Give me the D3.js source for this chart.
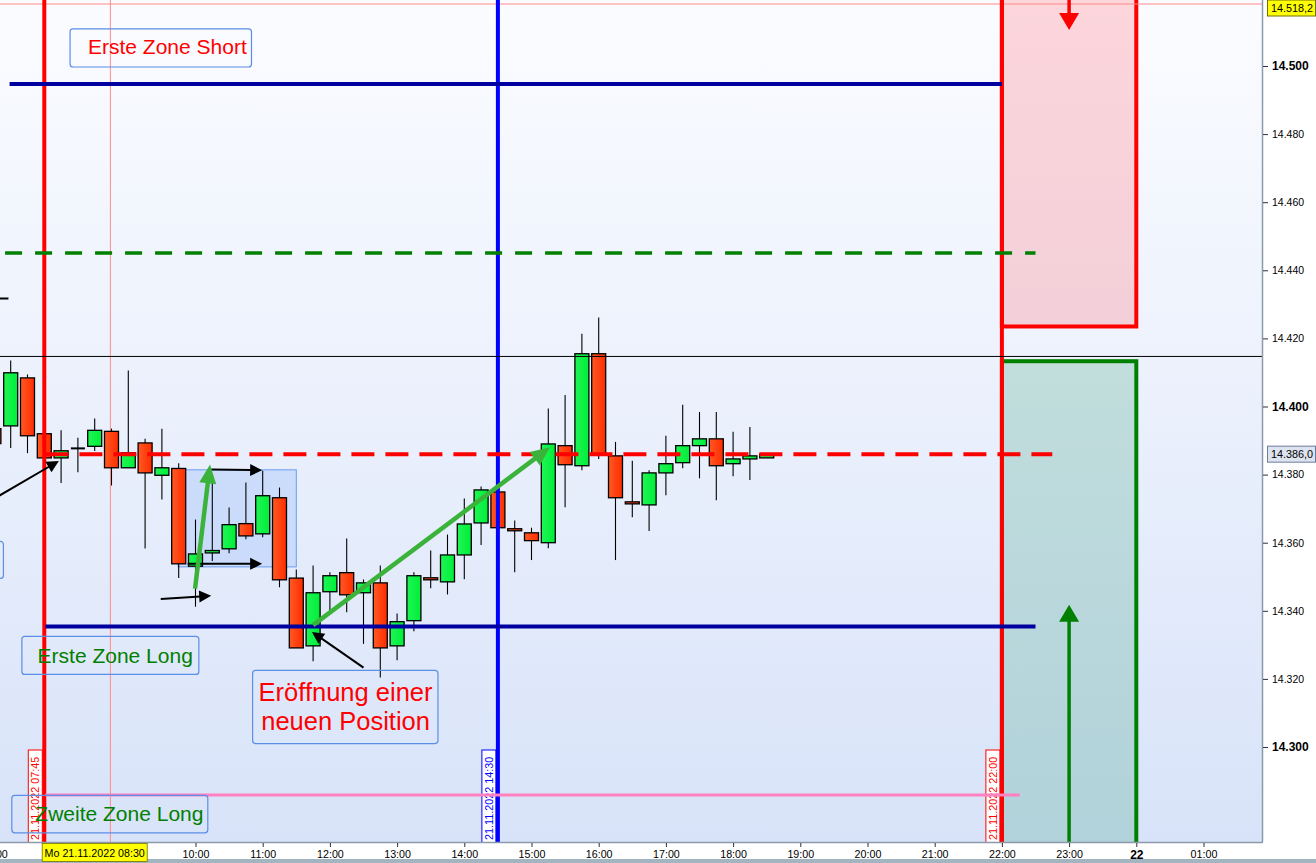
<!DOCTYPE html>
<html><head><meta charset="utf-8">
<script src="https://cdn.jsdelivr.net/npm/d3@7"></script>
<style>
html,body{margin:0;padding:0;background:#fff;overflow:hidden}
svg{display:block;font-family:Arial,"Liberation Sans",sans-serif}
</style></head><body>
<svg id="c" width="1316" height="863"></svg>
<script>
// ---------------- DATA ----------------
const DAY = "2022-11-21", NEXT = "2022-11-22";
const xDomain = ["07:05:27", "+01:52:14"];
const yDomain = [14272.1, 14519.38];

const candleTimes = ["07:00","07:15","07:30","07:45","08:00","08:15","08:30","08:45","09:00","09:15","09:30","09:45",
  "10:00","10:15","10:30","10:45","11:00","11:15","11:30","11:45","12:00","12:15","12:30","12:45",
  "13:00","13:15","13:30","13:45","14:00","14:15","14:30","14:45","15:00","15:15","15:30","15:45",
  "16:00","16:15","16:30","16:45","17:00","17:15","17:30","17:45","18:00","18:15","18:30"];
const opens = [14393.5,14394.3,14408.4,14392.0,14384.9,14387.7,14388.3,14392.7,14382.0,14389.3,14379.8,14381.8,
  14353.1,14357.0,14358.2,14365.6,14362.6,14373.2,14349.6,14329.7,14345.6,14351.2,14345.3,14348.2,
  14329.7,14337.1,14349.7,14348.5,14356.4,14365.8,14374.9,14364.1,14362.9,14360.0,14388.5,14382.6,
  14415.5,14385.5,14372.0,14371.1,14380.5,14383.5,14388.5,14390.5,14383.2,14384.6,14384.9];
const highs = [14394.0,14413.5,14409.4,14392.1,14393.0,14390.8,14396.5,14393.5,14410.6,14390.5,14393.5,14383.3,
  14366.8,14378.0,14370.3,14377.7,14381.1,14376.2,14352.1,14353.3,14351.3,14361.2,14349.2,14353.3,
  14339.2,14351.3,14357.7,14362.4,14373.0,14376.5,14376.2,14366.5,14364.4,14399.4,14403.4,14421.4,
  14426.1,14389.6,14384.1,14381.3,14391.4,14400.5,14398.4,14398.4,14392.6,14394.0,14386.0];
const lows = [14389.0,14387.8,14386.3,14384.7,14377.5,14380.7,14386.9,14376.8,14382.0,14358.3,14372.7,14349.6,
  14341.2,14354.6,14356.9,14361.0,14361.6,14346.9,14329.1,14325.2,14339.5,14339.6,14330.3,14320.4,
  14325.5,14334.0,14346.6,14344.8,14349.3,14359.3,14364.4,14351.3,14354.9,14358.4,14370.4,14381.3,
  14384.6,14354.9,14367.5,14363.4,14373.9,14381.9,14378.9,14372.5,14379.5,14378.4,14384.9];
const closes = [14389.1,14409.9,14391.4,14384.9,14387.0,14387.7,14393.0,14382.0,14386.4,14380.5,14382.0,14353.8,
  14356.7,14357.7,14365.3,14362.0,14373.8,14349.1,14329.1,14345.3,14350.3,14344.7,14348.2,14329.1,
  14336.8,14350.3,14349.1,14356.4,14365.5,14375.5,14364.4,14363.5,14360.6,14389.0,14382.9,14415.5,
  14385.9,14373.2,14371.4,14380.5,14383.2,14388.5,14390.5,14382.6,14384.6,14385.5,14386.0];

const priceTicks = [14300,14320,14340,14360,14380,14400,14420,14440,14460,14480,14500];
const timeTicks = ["07:00","08:00","09:00","10:00","11:00","12:00","13:00","14:00","15:00","16:00","17:00",
  "18:00","19:00","20:00","21:00","22:00","23:00","+00:00","+01:00"];
const hiddenTimeLabels = ["08:00","09:00"];   // covered by the crosshair time label

// horizontal level lines
const levelPrices = [14494.7, 14445.1, 14414.7, 14386.0, 14335.4, 14285.9, 14431.7];
const levelFrom   = ["07:14", "07:10", "06:30", "07:46", "07:46", "07:46", "06:30"];
const levelTo     = ["22:00", "22:30", "+02:00", "22:45", "22:30", "22:16", "07:13"];

// vertical markers
const markerTimes  = ["07:45", "14:30", "22:00"];
const markerLabels = ["21.11.2022 07:45", "21.11.2022 14:30", "21.11.2022 22:00"];

// zones
const zoneFrom = ["22:00", "22:00"], zoneTo = ["+00:00", "+00:00"];
const zoneTop = [14540, 14413.3], zoneBottom = [14423.5, 14250];
const zoneArrowAt = ["23:00", "23:00"], zoneArrowFrom = [14530, 14260], zoneArrowTo = [14510.6, 14341.8];

// text notes
const noteLines = [["Erste Zone Short"], ["Erste Zone Long"], ["Zweite Zone Long"], ["Eröffnung einer", "neuen Position"], [""]];
const noteBoxFrom = ["08:08", "07:25", "07:16", "10:51", "06:00"];
const noteBoxTo   = ["10:50", "10:03", "10:11", "13:36:30", "07:08:30"];
const noteBoxTop  = [14510.9, 14332.5, 14285.8, 14322.5, 14360.4];
const noteBoxBottom = [14499.7, 14321.3, 14274.8, 14301.0, 14349.5];
const noteTextAt  = ["08:24", "07:39", "07:37", "12:14", "06:00"];
const noteTextPrice = [14503.5, 14324.8, 14278.4, 14313.6, 14350];

// selection rectangle
const selFrom = "09:44:30", selTo = "11:30", selTop = 14381.4, selBottom = 14352.9;

// black pointer arrows
const pointerFromT = ["07:00", "10:14", "09:53", "09:29", "12:30"];
const pointerFromP = [14372.9, 14381.5, 14353.8, 14343.5, 14323.3];
const pointerToT   = ["07:58", "10:59:30", "10:59:30", "10:14", "11:44"];
const pointerToP   = [14384.0, 14381.3, 14353.8, 14344.4, 14333.8];

// green trend arrows
const trendFromT = ["09:59:36", "11:45"];
const trendFromP = [14346.5, 14335.8];
const trendToT   = ["10:13", "15:16:30"];
const trendToP   = [14383.0, 14388.0];

// crosshair / price labels
const crossTime = "08:44", crossPrice = 14518.2, crossLabelTime = "08:30";
const lastPrice = 14386.0;

// ---------------- HELPERS ----------------
const pFull = d3.timeParse("%Y-%m-%d %H:%M:%S");
function T(s){
  let d = DAY;
  if (s.startsWith("+")) { d = NEXT; s = s.slice(1); }
  if (s.length === 5) s += ":00";
  return pFull(d + " " + s);
}
const de = d3.formatLocale({decimal: ",", thousands: ".", grouping: [3], currency: ["", "€"]});
const fmt0 = de.format(",.0f"), fmt1 = de.format(",.1f");

const W = 1262, H = 842, SW = 1316, SH = 863;
const x = d3.scaleTime().domain(xDomain.map(T)).range([0, W]);
const y = d3.scaleLinear().domain(yDomain).range([H, 0]);

const svg = d3.select("#c");
const defs = svg.append("defs");
function vgrad(id, stops, horiz){
  const g = defs.append("linearGradient").attr("id", id).attr("x1",0).attr("y1",0)
    .attr("x2", horiz?1:0).attr("y2", horiz?0:1);
  stops.forEach(([o,c]) => g.append("stop").attr("offset", o).attr("stop-color", c));
}
vgrad("bg", [["0%","#fbfcff"],["50%","#eaf0fc"],["100%","#d8e3f9"]]);
vgrad("up", [["0%","#1ff556"],["100%","#00ee38"]], true);
vgrad("dn", [["0%","#ff5a24"],["100%","#ff2c00"]], true);
defs.append("clipPath").attr("id","clip").append("rect").attr("x",0).attr("y",0).attr("width",W).attr("height",H);

// panels
svg.append("rect").attr("width",SW).attr("height",SH).attr("fill","#ffffff");
svg.append("rect").attr("x",0).attr("y",859).attr("width",SW).attr("height",4).attr("fill","#a2b5c1");

const plot = svg.append("g").attr("clip-path","url(#clip)");
plot.append("rect").attr("width",W).attr("height",H).attr("fill","url(#bg)");

// selection rectangle
plot.append("rect")
  .attr("x", x(T(selFrom))).attr("y", y(selTop))
  .attr("width", x(T(selTo)) - x(T(selFrom))).attr("height", y(selBottom) - y(selTop))
  .attr("fill", "rgba(180,205,252,0.55)").attr("stroke", "#6b9df0").attr("stroke-width", 1);

// zones
const zoneFill = ["rgba(255,120,130,0.29)", "rgba(40,150,110,0.22)"];
const zoneStroke = ["#ff0000", "#008000"];
zoneFrom.forEach((f,i) => {
  plot.append("rect")
    .attr("x", x(T(f))).attr("y", y(zoneTop[i]))
    .attr("width", x(T(zoneTo[i])) - x(T(f))).attr("height", y(zoneBottom[i]) - y(zoneTop[i]))
    .attr("fill", zoneFill[i]).attr("stroke", zoneStroke[i]).attr("stroke-width", 4);
});

// crosshair
plot.append("line").attr("x1", x(T(crossTime))).attr("x2", x(T(crossTime))).attr("y1",0).attr("y2",H)
  .attr("stroke","#ff8a8a").attr("stroke-width",1);
plot.append("line").attr("x1",0).attr("x2",W).attr("y1",y(crossPrice)).attr("y2",y(crossPrice))
  .attr("stroke","#ff8a8a").attr("stroke-width",1);

// candles
const step = x(T("07:15")) - x(T("07:00"));
const bodyW = Math.round(step * 0.85);
const cg = plot.append("g");
candleTimes.forEach((t,i) => {
  const cx = x(T(t)), o = opens[i], c = closes[i];
  cg.append("line").attr("x1",cx).attr("x2",cx).attr("y1",y(highs[i])).attr("y2",y(lows[i]))
    .attr("stroke","#000").attr("stroke-width",1.1);
  if (o === c) {
    cg.append("line").attr("x1",cx-bodyW/2).attr("x2",cx+bodyW/2).attr("y1",y(o)).attr("y2",y(o))
      .attr("stroke","#000").attr("stroke-width",2);
  } else {
    const top = y(Math.max(o,c)), bot = y(Math.min(o,c));
    cg.append("rect").attr("x",cx-bodyW/2).attr("y",top).attr("width",bodyW).attr("height",Math.max(bot-top,2))
      .attr("fill", c > o ? "url(#up)" : "url(#dn)").attr("stroke","#000").attr("stroke-width",1.3);
  }
});

// vertical date labels
const markerColor = ["#ff0000", "#0000ff", "#ff0000"];
markerTimes.forEach((t,i) => {
  const xl = x(T(t));
  plot.append("rect").attr("x", xl-16).attr("y", 750).attr("width", 14).attr("height", H-750+2)
    .attr("fill","#ffffff").attr("stroke", markerColor[i]).attr("stroke-width",1);
  plot.append("text").attr("transform", `translate(${xl-5},${H-2}) rotate(-90)`)
    .attr("font-size", 10.8).attr("fill", markerColor[i]).text(markerLabels[i]);
});

// vertical lines
markerTimes.forEach((t,i) => {
  plot.append("line").attr("x1",x(T(t))).attr("x2",x(T(t))).attr("y1",0).attr("y2",H)
    .attr("stroke", markerColor[i]).attr("stroke-width",4);
});

// horizontal levels
const levelStyle = [
  {c:"#0000a0", w:4, d:null},
  {c:"#008000", w:3.5, d:"17,13"},
  {c:"#000000", w:1, d:null},
  {c:"#ff0000", w:4, d:"23,11"},
  {c:"#0000a0", w:4, d:null},
  {c:"#ff80c0", w:3, d:null},
  {c:"#000000", w:2, d:null}
];
levelPrices.forEach((p,i) => {
  const s = levelStyle[i];
  const l = plot.append("line").attr("x1", x(T(levelFrom[i]))).attr("x2", x(T(levelTo[i])))
    .attr("y1", y(p)).attr("y2", y(p)).attr("stroke", s.c).attr("stroke-width", s.w);
  if (s.d) l.attr("stroke-dasharray", s.d);
});

// arrows
function arrow(g, x1,y1,x2,y2, color, lw, hl, hw){
  const dx=x2-x1, dy=y2-y1, len=Math.hypot(dx,dy), ux=dx/len, uy=dy/len;
  const bx=x2-ux*hl, by=y2-uy*hl;
  g.append("line").attr("x1",x1).attr("y1",y1).attr("x2",bx+ux).attr("y2",by+uy)
    .attr("stroke",color).attr("stroke-width",lw);
  g.append("path").attr("d", `M${x2},${y2}L${bx-uy*hw/2},${by+ux*hw/2}L${bx+uy*hw/2},${by-ux*hw/2}Z`)
    .attr("fill",color);
}
const zArrColor = ["#ff0000", "#008000"];
zoneArrowAt.forEach((t,i) => {
  arrow(plot, x(T(t)), y(zoneArrowFrom[i]), x(T(t)), y(zoneArrowTo[i]), zArrColor[i], 3.5, 17, 20);
});

// notes
const noteColor = ["#ff0000", "#008000", "#008000", "#ff0000", "#000"];
const noteSize = [21, 21, 21, 25.5, 12];
const noteAnchor = ["start", "start", "start", "middle", "start"];
noteLines.forEach((lines,i) => {
  plot.append("rect").attr("x", x(T(noteBoxFrom[i]))).attr("y", y(noteBoxTop[i]))
    .attr("width", x(T(noteBoxTo[i])) - x(T(noteBoxFrom[i])))
    .attr("height", y(noteBoxBottom[i]) - y(noteBoxTop[i]))
    .attr("rx", 3).attr("fill","none").attr("stroke","#5b8ee6").attr("stroke-width",1.2);
  lines.forEach((ln,j) => {
    if (!ln) return;
    plot.append("text").attr("x", x(T(noteTextAt[i]))).attr("y", y(noteTextPrice[i]) + j*29)
      .attr("text-anchor", noteAnchor[i]).attr("font-size", noteSize[i]).attr("fill", noteColor[i]).text(ln);
  });
});

// pointer arrows
pointerFromT.forEach((t,i) => {
  arrow(plot, x(T(t)), y(pointerFromP[i]), x(T(pointerToT[i])), y(pointerToP[i]), "#000", 2, 12, 12);
});
trendFromT.forEach((t,i) => {
  arrow(plot, x(T(t)), y(trendFromP[i]), x(T(trendToT[i])), y(trendToP[i]), "#3bb33b", 4.5, 19, 17);
});

// ---------------- AXES ----------------
svg.append("line").attr("x1",W+0.5).attr("x2",W+0.5).attr("y1",0).attr("y2",H).attr("stroke","#8a9aaa").attr("stroke-width",1.5);
svg.append("line").attr("x1",0).attr("x2",W+1).attr("y1",H+0.5).attr("y2",H+0.5).attr("stroke","#8a9aaa").attr("stroke-width",1.5);

const yAxis = d3.axisRight(y).tickValues(priceTicks).tickSize(5).tickPadding(4).tickFormat(fmt0);
const ya = svg.append("g").attr("transform", `translate(${W+1},0)`).call(yAxis);
ya.select(".domain").remove();
ya.selectAll(".tick line").attr("stroke","#303040");
ya.selectAll(".tick text").attr("fill","#000").attr("font-family","Arial,'Liberation Sans',sans-serif")
  .attr("font-size", d => d % 100 === 0 ? 12 : 10.5)
  .attr("font-weight", d => d % 100 === 0 ? "bold" : "normal");

const hidden = new Set(hiddenTimeLabels.map(s => +T(s)));
const xAxis = d3.axisBottom(x).tickValues(timeTicks.map(T)).tickSize(4).tickPadding(3)
  .tickFormat(d => hidden.has(+d) ? "" : (d.getHours() === 0 ? d3.timeFormat("%-d")(d) : d3.timeFormat("%H:%M")(d)));
const xa = svg.append("g").attr("transform", `translate(0,${H+1})`).call(xAxis);
xa.select(".domain").remove();
xa.selectAll(".tick line").attr("stroke","#303040");
xa.selectAll(".tick text").attr("fill","#000").attr("font-family","Arial,'Liberation Sans',sans-serif")
  .attr("font-size", d => d.getHours() === 0 ? 12 : 10.7)
  .attr("font-weight", d => d.getHours() === 0 ? "bold" : "normal");

// crosshair time label
const cl = svg.append("g").attr("transform", `translate(${x(T(crossLabelTime))},${H+1})`);
cl.append("rect").attr("x",-52.5).attr("y",0.5).attr("width",105).attr("height",18)
  .attr("fill","#ffff00").attr("stroke","#707000").attr("stroke-width",0.8);
cl.append("text").attr("x",0).attr("y",14).attr("text-anchor","middle").attr("font-size",10.7).attr("fill","#000")
  .text("Mo " + d3.timeFormat("%d.%m.%Y %H:%M")(T(crossLabelTime)));

// price labels on right axis
function priceTag(p, text, fill, stroke){
  const g = svg.append("g").attr("transform", `translate(${W+5},${Math.max(y(p), 8)})`);
  g.append("rect").attr("x",0.5).attr("y",-8).attr("width",48).attr("height",16)
    .attr("fill",fill).attr("stroke",stroke).attr("stroke-width",1);
  g.append("text").attr("x",4).attr("y",4).attr("font-size",10.8).attr("fill","#000").text(text);
}
priceTag(lastPrice, fmt1(lastPrice), "#dde4f0", "#6c7c9c");
priceTag(crossPrice, fmt1(crossPrice), "#ffff00", "#707000");
</script>
</body></html>
